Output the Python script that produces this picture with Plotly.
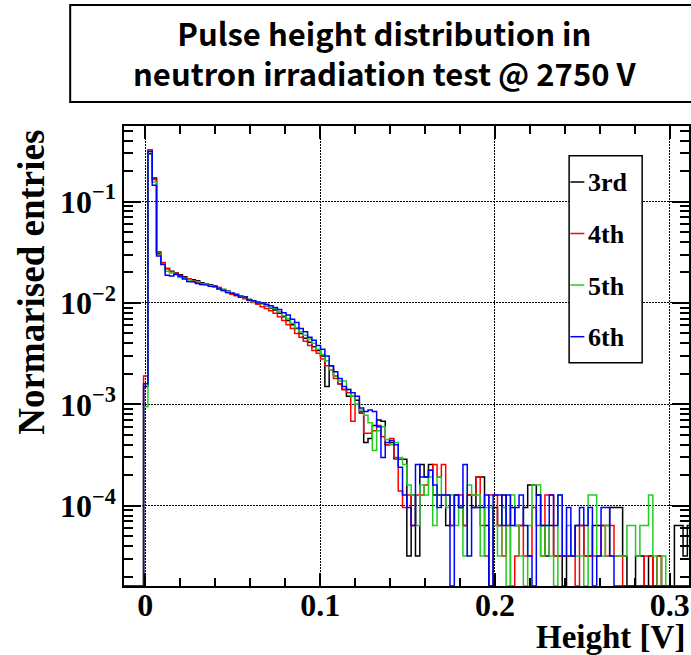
import plotly.graph_objects as go

# ---------------- data ----------------
HIST_MIN = -0.01334375      # left edge of first histogram bin [V]
BIN_WIDTH = 0.00246875      # bin width [V]

series_names = ["3rd", "4th", "5th", "6th"]
series_colors = ["#000000", "#ff0000", "#22cc22", "#0000ff"]

x_tick_vals = [0, 0.1, 0.2, 0.3]
x_tick_text = ["0", "0.1", "0.2", "0.3"]
y_tick_vals = [1e-4, 1e-3, 1e-2, 1e-1]
y_tick_text = ["10<sup>\u22124</sup>", "10<sup>\u22123</sup>", "10<sup>\u22122</sup>", "10<sup>\u22121</sup>"]

entries_3rd = [0, 0, 0, 0, 0,
    0.0015, 0.296, 0.171, 0.031, 0.0248, 0.0218, 0.0205, 0.0198, 0.0190, 0.0181,
    0.0172, 0.0169, 0.0166, 0.0158, 0.0155, 0.0151, 0.0147, 0.0140, 0.0136, 0.0131,
    0.0124, 0.0121, 0.0117, 0.0114, 0.0108, 0.0104, 0.0102, 0.0099, 0.0094, 0.0089,
    0.0085, 0.0079, 0.0073, 0.0067, 0.0061, 0.0056, 0.0050, 0.0045, 0.0041, 0.0037,
    0.0034, 0.0030, 0.0015, 0.0024, 0.0019, 0.0016, 0.0014, 0.0012, 0.0012, 0.0011,
    0.00082, 0.00042, 0.00046, 0.00062, 0.00070, 0.00068, 0.00040, 0.00042, 0.00029,
    2.88e-4, 2.88e-4, 3.2e-5, 1.28e-4, 3.2e-5, 2.56e-4, 1.92e-4, 2.56e-4, 1.28e-4, 1.28e-4,
    1.28e-4, 6.4e-5, 6.4e-5, 1.28e-4, 9.6e-5, 6.4e-5, 1.28e-4, 9.6e-5, 1.92e-4, 1.92e-4,
    6.4e-5, 0, 9.6e-5, 6.4e-5, 1.28e-4, 6.4e-5, 9.6e-5, 6.4e-5, 6.4e-5, 9.6e-5,
    1.6e-4, 1.6e-4, 1.28e-4, 6.4e-5, 3.2e-5, 6.4e-5, 3.2e-5, 3.2e-5, 0, 3.2e-5,
    3.2e-5, 6.4e-5, 6.4e-5, 3.2e-5, 3.2e-5, 6.4e-5, 6.4e-5, 6.4e-5, 6.4e-5, 9.6e-5,
    9.6e-5, 9.6e-5, 3.2e-5, 0, 0, 3.2e-5, 3.2e-5, 0, 3.2e-5, 0,
    3.2e-5, 0, 0, 0, 6.4e-5, 6.4e-5, 3.2e-5, 6.4e-5]

entries_4th = [0, 0, 0, 0, 0,
    0.0019, 0.325, 0.165, 0.032, 0.0250, 0.0220, 0.0203, 0.0196, 0.0187, 0.0178,
    0.0172, 0.0165, 0.0160, 0.0156, 0.0155, 0.0149, 0.0144, 0.0142, 0.0133, 0.0128,
    0.0122, 0.0118, 0.0115, 0.0110, 0.0106, 0.0101, 0.0097, 0.0092, 0.0088, 0.0084,
    0.0079, 0.0073, 0.0067, 0.0061, 0.0056, 0.0050, 0.0046, 0.0042, 0.0038, 0.0034,
    0.0032, 0.0028, 0.0024, 0.0022, 0.0018, 0.0016, 0.0014, 0.0013, 0.00068, 0.0010,
    0.00085, 0.00052, 0.00052, 0.00055, 0.00062, 0.00048, 0.00040, 0.00046, 0.00030, 0.00014,
    9.6e-5, 1.28e-4, 6.4e-5, 1.28e-4, 1.28e-4, 1.6e-4, 2.24e-4, 2.56e-4, 1.92e-4, 2.56e-4,
    1.28e-4, 6.4e-5, 1.28e-4, 1.28e-4, 6.4e-5, 1.28e-4, 1.28e-4, 1.92e-4, 6.4e-5, 3.2e-5,
    1.28e-4, 1.28e-4, 6.4e-5, 3.2e-5, 6.4e-5, 0, 3.2e-5, 6.4e-5, 3.2e-5, 3.2e-5,
    9.6e-5, 6.4e-5, 3.2e-5, 1.28e-4, 1.28e-4, 3.2e-5, 3.2e-5, 3.2e-5, 3.2e-5, 3.2e-5,
    0, 6.4e-5, 3.2e-5, 3.2e-5, 3.2e-5, 3.2e-5, 6.4e-5, 3.2e-5, 6.4e-5, 3.2e-5,
    3.2e-5, 0, 0, 0, 0, 0, 3.2e-5, 3.2e-5, 0, 3.2e-5,
    0, 0, 0, 0, 0, 0, 0]

entries_5th = [0, 0, 0, 0, 0,
    0.00095, 0.309, 0.156, 0.030, 0.0242, 0.0205, 0.0197, 0.0190, 0.0178, 0.0174,
    0.0168, 0.0164, 0.0162, 0.0154, 0.0152, 0.0149, 0.0143, 0.0138, 0.0136, 0.0130,
    0.0125, 0.0123, 0.0116, 0.0113, 0.0109, 0.0103, 0.0101, 0.0098, 0.0095, 0.0090,
    0.0088, 0.0082, 0.0075, 0.0070, 0.0063, 0.0057, 0.0052, 0.0048, 0.0044, 0.0040,
    0.0035, 0.0031, 0.0027, 0.0022, 0.0019, 0.0017, 0.0017, 0.0014, 0.0012, 0.0010,
    0.00088, 0.00078, 0.00066, 0.00035, 0.00055, 0.00060, 0.00045, 0.00040, 0.00042, 0.00030,
    2.56e-4, 1.6e-4, 1.28e-4, 6.4e-5, 1.6e-4, 1.28e-4, 1.92e-4, 6.4e-5, 1.92e-4, 1.28e-4,
    9.6e-5, 1.28e-4, 6.4e-5, 9.6e-5, 3.2e-5, 1.6e-4, 1.28e-4, 1.28e-4, 3.2e-5, 9.6e-5,
    9.6e-5, 6.4e-5, 3.2e-5, 9.6e-5, 0, 1.28e-4, 6.4e-5, 3.2e-5, 0, 6.4e-5,
    1.6e-4, 1.6e-4, 3.2e-5, 6.4e-5, 3.2e-5, 0, 1.28e-4, 3.2e-5, 6.4e-5, 3.2e-5,
    3.2e-5, 3.2e-5, 0, 1.28e-4, 1.28e-4, 3.2e-5, 3.2e-5, 6.4e-5, 3.2e-5, 3.2e-5,
    3.2e-5, 3.2e-5, 6.4e-5, 6.4e-5, 3.2e-5, 6.4e-5, 6.4e-5, 1.28e-4, 3.2e-5, 0,
    3.2e-5, 0, 0, 0, 0, 0, 0]

entries_6th = [0, 0, 0, 0, 0,
    0.0016, 0.313, 0.145, 0.029, 0.0240, 0.0188, 0.0184, 0.0192, 0.0183, 0.0172,
    0.0163, 0.0161, 0.0156, 0.0152, 0.0150, 0.0146, 0.0145, 0.0137, 0.0133, 0.0127,
    0.0125, 0.0120, 0.0114, 0.0115, 0.0107, 0.0105, 0.0100, 0.0100, 0.0097, 0.0094,
    0.0090, 0.0086, 0.0080, 0.0076, 0.0069, 0.0064, 0.0056, 0.0052, 0.0046, 0.0043,
    0.0038, 0.0035, 0.0030, 0.0024, 0.0021, 0.0018, 0.0015, 0.0014, 0.0013, 0.0012,
    0.00092, 0.00085, 0.00088, 0.00085, 0.00060, 0.00030, 0.00042, 0.00044, 0.00040, 0.00024,
    1.28e-4, 9.6e-5, 6.4e-5, 2.56e-4, 1.92e-4, 1.92e-4, 2.24e-4, 1.6e-4, 9.6e-5, 1.28e-4,
    1.28e-4, 0, 1.28e-4, 9.6e-5, 2.56e-4, 3.2e-5, 9.6e-5, 9.6e-5, 9.6e-5, 1.28e-4,
    0, 1.28e-4, 1.28e-4, 6.4e-5, 1.28e-4, 6.4e-5, 9.6e-5, 1.28e-4, 6.4e-5, 3.2e-5,
    0, 1.28e-4, 6.4e-5, 6.4e-5, 1.28e-4, 6.4e-5, 1.28e-4, 3.2e-5, 9.6e-5, 3.2e-5,
    6.4e-5, 9.6e-5, 6.4e-5, 9.6e-5, 0, 3.2e-5, 9.6e-5, 9.6e-5, 3.2e-5, 0,
    0, 0, 0, 0, 0, 0, 0, 0, 0, 0,
    0, 0, 0, 0, 0, 0, 0]

series_values = [entries_3rd, entries_4th, entries_5th, entries_6th]

# ---------------- layout constants (page pixels) ----------------
PAGE_W, PAGE_H = 691, 655
PLOT_L, PLOT_R, PLOT_T, PLOT_B = 124, 691, 126, 586   # plot frame in page pixels

W, H = PAGE_W, PAGE_H
ML = PLOT_L
MT = PLOT_T
MR = W - PLOT_R
MB = H - PLOT_B

X_RANGE = [-0.01221, 0.3110]
Y_RANGE_LOG = [-4.791, -0.255]
Y_FLOOR = 10 ** Y_RANGE_LOG[0]

PW = PLOT_R - PLOT_L
PH = PLOT_B - PLOT_T


def px2x(px):
    return (px - PLOT_L) / PW


def py2y(py):
    return (PLOT_B - py) / PH


SERIF = "Liberation Serif"

fig = go.Figure()

for name, color, vals in zip(series_names, series_colors, series_values):
    xs, ys = [HIST_MIN], [Y_FLOOR]
    for i, v in enumerate(vals):
        lo = HIST_MIN + i * BIN_WIDTH
        hi = lo + BIN_WIDTH
        yv = v if v > 0 else Y_FLOOR
        xs += [lo, hi]
        ys += [yv, yv]
    xs.append(xs[-1])
    ys.append(Y_FLOOR)
    fig.add_trace(go.Scatter(x=xs, y=ys, mode="lines", name=name,
                             line=dict(color=color, width=1.5),
                             showlegend=False, hoverinfo="skip"))

minor_y = [m * 10 ** e for e in range(-5, 0) for m in range(2, 10)]

axis_common = dict(
    showline=True, linecolor="black", linewidth=1.5, mirror="allticks",
    ticks="inside", tickcolor="black", tickwidth=1.5,
    showgrid=True, gridcolor="black", gridwidth=1, griddash="1.5px,1.5px",
    zeroline=False,
)

fig.update_layout(
    width=W, height=H,
    margin=dict(l=ML, r=MR, t=MT, b=MB, pad=0),
    paper_bgcolor="white", plot_bgcolor="white",
    xaxis=dict(range=X_RANGE, tickmode="array", tickvals=x_tick_vals, ticktext=x_tick_text,
               ticklen=13, ticklabelstandoff=-10,
               tickfont=dict(family=SERIF, size=32, color="black", weight="bold"),
               minor=dict(ticks="inside", ticklen=8, tickwidth=1.5, tickcolor="black",
                          dtick=0.02, tick0=0, showgrid=False),
               **axis_common),
    yaxis=dict(type="log", range=Y_RANGE_LOG, tickmode="array", tickvals=y_tick_vals,
               ticktext=y_tick_text, ticklen=17,
               tickfont=dict(family=SERIF, size=32, color="black", weight="bold"),
               minor=dict(ticks="inside", ticklen=9, tickwidth=1.5, tickcolor="black",
                          tickvals=minor_y, showgrid=False),
               **axis_common),
)

shapes = []
annotations = []

# Title box
shapes.append(dict(type="rect", xref="paper", yref="paper",
                   x0=px2x(70), x1=px2x(705), y0=py2y(102), y1=py2y(5),
                   line=dict(color="black", width=2), fillcolor="white", layer="above"))
annotations.append(dict(xref="paper", yref="paper", x=px2x(386), y=py2y(53),
                        xanchor="center", yanchor="middle", showarrow=False,
                        text="Pulse height distribution in<br>neutron irradiation test @ 2750 V",
                        font=dict(family="Noto Sans CJK JP", size=31, color="black", weight="bold")))

# Axis titles
annotations.append(dict(xref="paper", yref="paper", x=px2x(31), y=py2y(128),
                        xanchor="center", yanchor="top", showarrow=False, textangle=-90,
                        text="Normarised entries",
                        font=dict(family=SERIF, size=37, color="black", weight="bold")))
annotations.append(dict(xref="paper", yref="paper", x=px2x(689), y=py2y(637),
                        xanchor="right", yanchor="middle", showarrow=False,
                        text="Height [V]",
                        font=dict(family=SERIF, size=33, color="black", weight="bold")))

# Legend
shapes.append(dict(type="rect", xref="paper", yref="paper",
                   x0=px2x(570.7), x1=px2x(644), y0=py2y(362.7), y1=py2y(155.7),
                   line=dict(color="black", width=1.5), fillcolor="white", layer="above"))
legend_rows = [182, 233.5, 285, 336.7]
for name, color, row in zip(series_names, series_colors, legend_rows):
    shapes.append(dict(type="line", xref="paper", yref="paper",
                       x0=px2x(572), x1=px2x(586), y0=py2y(row), y1=py2y(row),
                       line=dict(color=color, width=1.5), layer="above"))
    annotations.append(dict(xref="paper", yref="paper", x=px2x(588), y=py2y(row + 1),
                            xanchor="left", yanchor="middle", showarrow=False,
                            text=name,
                            font=dict(family=SERIF, size=26, color="black", weight="bold")))

fig.update_layout(shapes=shapes, annotations=annotations)

fig.write_html("out.html",
               config={"displayModeBar": False},
               post_script="document.body.style.margin='0';document.body.style.overflow='hidden';")
